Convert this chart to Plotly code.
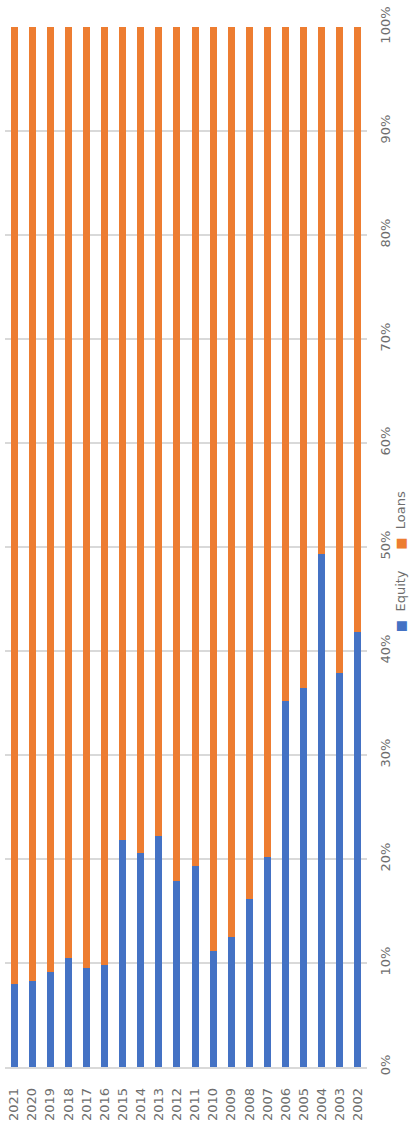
import plotly.graph_objects as go

# Financing mix by year (share of total, %)
years = ["2021", "2020", "2019", "2018", "2017", "2016", "2015", "2014", "2013", "2012",
         "2011", "2010", "2009", "2008", "2007", "2006", "2005", "2004", "2003", "2002"]
equity = [8.0, 8.3, 9.1, 10.5, 9.5, 9.8, 21.8, 20.6, 22.2, 17.9,
          19.3, 11.2, 12.5, 16.2, 20.2, 35.2, 36.4, 49.3, 37.9, 41.8]
loans = [92.0, 91.7, 90.9, 89.5, 90.5, 90.2, 78.2, 79.4, 77.8, 82.1,
         80.7, 88.8, 87.5, 83.8, 79.8, 64.8, 63.6, 50.7, 62.1, 58.2]
pct_ticks = [0, 10, 20, 30, 40, 50, 60, 70, 80, 90, 100]

series = [("Equity", equity, "#4472C4"), ("Loans", loans, "#ED7D31")]

FONT = "DejaVu Sans"
GREY = "#6e6e6e"

fig = go.Figure()
for name, vals, color in series:
    fig.add_trace(go.Bar(
        x=years, y=vals, name=name,
        marker=dict(color=color, line=dict(width=0)),
        showlegend=False,
    ))

# Rotated legend drawn as a single annotation
legend_text = "&nbsp;&nbsp;&nbsp;&nbsp;&nbsp;".join(
    f"<span style='color:{c}'>■</span>&nbsp;&nbsp;{n}" for n, _, c in series
)
fig.add_annotation(
    text=legend_text, textangle=-90,
    xref="paper", yref="paper", x=1.119, y=0.486,
    showarrow=False, font=dict(family=FONT, size=13, color=GREY),
)

fig.update_layout(
    barmode="stack", barnorm="percent", bargap=0.61,
    width=417, height=1131,
    margin=dict(l=5, r=50, t=27, b=64),
    plot_bgcolor="white", paper_bgcolor="white",
    font=dict(family=FONT, size=13, color=GREY),
)
fig.update_xaxes(
    type="category", tickangle=-90, showgrid=False,
    showline=True, linecolor="#d9d9d9", linewidth=1.5,
    ticks="", ticklabelstandoff=14,
    tickfont=dict(family=FONT, size=13, color=GREY),
)
fig.update_yaxes(
    range=[0, 100], side="right", tickvals=pct_ticks,
    ticktext=[f"{v}%" for v in pct_ticks], tickangle=-90,
    showgrid=True, gridcolor="#d9d9d9", gridwidth=1.5,
    zeroline=False, ticks="", ticklabelstandoff=9,
    tickfont=dict(family=FONT, size=13, color=GREY),
)

fig.write_html("out.html")
